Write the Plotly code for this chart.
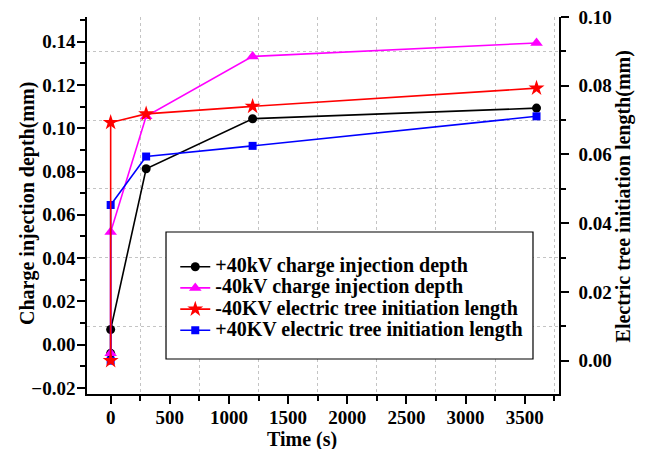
import plotly.graph_objects as go

# Time (s)
time_s = [0, 0, 300, 1200, 3600]

# Charge injection depth (mm) - left axis
pos40_charge = [-0.004, 0.007, 0.0813, 0.1044, 0.1093]
neg40_charge = [-0.004, 0.052, 0.1055, 0.1332, 0.1394]

# Electric tree initiation length (mm) - right axis
neg40_tree = [0.0, 0.0693, 0.0718, 0.0740, 0.0793]
pos40_tree = [0.0, 0.0453, 0.0594, 0.0625, 0.0711]

names = [
    "+40kV charge injection depth",
    "-40kV charge injection depth",
    "-40KV electric tree initiation length",
    "+40KV electric tree initiation length",
]

x_title = "Time (s)"
y_title = "Charge injection depth(mm)"
y2_title = "Electric tree initiation length(mm)"

FONT = "Liberation Serif"


def label(t):
    return f"<span style='font-size:20px'>{t}</span>"


fig = go.Figure()

fig.add_trace(go.Scatter(
    x=time_s, y=pos40_charge, name=label(names[0]), legendrank=1,
    mode="lines+markers", line=dict(color="black", width=1.6),
    marker=dict(symbol="circle", size=9, color="black"),
    yaxis="y", xaxis="x",
))
fig.add_trace(go.Scatter(
    x=time_s, y=neg40_charge, name=label(names[1]), legendrank=2,
    mode="lines+markers", line=dict(color="#ff00ff", width=1.6),
    marker=dict(symbol="triangle-up", size=11, color="#ff00ff"),
    yaxis="y", xaxis="x",
))
fig.add_trace(go.Scatter(
    x=time_s, y=pos40_tree, name=label(names[3]), legendrank=4,
    mode="lines+markers", line=dict(color="#0000ff", width=1.6),
    marker=dict(symbol="square", size=8, color="#0000ff"),
    yaxis="y2", xaxis="x",
))
fig.add_trace(go.Scatter(
    x=time_s, y=neg40_tree, name=label(names[2]), legendrank=3,
    mode="lines+markers", line=dict(color="#ff0000", width=1.6),
    marker=dict(symbol="star", size=12, color="#ff0000"),
    yaxis="y2", xaxis="x",
))

tick_font = dict(family=FONT, size=19, color="black", weight=900)
title_font = dict(family=FONT, size=20, color="black")
grid = dict(showgrid=True, gridcolor="#c4c4c4", griddash="dot", gridwidth=1)

fig.update_layout(
    width=649, height=449,
    margin=dict(l=87, r=90, t=17, b=55),
    paper_bgcolor="white", plot_bgcolor="white",
    font=dict(family=FONT, color="black"),
    xaxis=dict(
        range=[-200, 3790], tick0=0, dtick=500,
        ticks="outside", ticklen=8, tickwidth=1.5, tickcolor="black",
        showline=True, linewidth=1.5, linecolor="black",
        showgrid=False, zeroline=False, automargin=False,
        tickfont=tick_font, ticklabelstandoff=-3,
        minor=dict(dtick=250, ticks="outside", ticklen=5, tickwidth=1.5,
                   tickcolor="black", **grid),
    ),
    xaxis2=dict(
        overlaying="x", side="top", anchor="y", range=[-200, 3790],
        tick0=0, dtick=500, ticks="inside", ticklen=7, tickwidth=1.5,
        tickcolor="black", showline=True, linewidth=1.5, linecolor="black",
        showticklabels=False, showgrid=False, zeroline=False, automargin=False,
        minor=dict(dtick=250, ticks="inside", ticklen=7, tickwidth=1.5,
                   tickcolor="black"),
    ),
    yaxis=dict(
        range=[-0.0228, 0.1514], tick0=0, dtick=0.02, tickformat=".2f",
        ticks="outside", ticklen=8, tickwidth=1.5, tickcolor="black",
        showline=True, linewidth=1.5, linecolor="black",
        showgrid=False, zeroline=False, automargin=False,
        tickfont=tick_font, ticklabelstandoff=-2,
        minor=dict(dtick=0.01, ticks="outside", ticklen=5, tickwidth=1.5,
                   tickcolor="black"),
    ),
    yaxis2=dict(
        overlaying="y", side="right", anchor="x",
        range=[-0.0097, 0.1], tick0=0, dtick=0.02, tickformat=".2f",
        ticks="outside", ticklen=8, tickwidth=1.5, tickcolor="black",
        showline=True, linewidth=1.5, linecolor="black",
        showgrid=False, zeroline=False, automargin=False,
        tickfont=tick_font, ticklabelstandoff=6,
        minor=dict(dtick=0.01, ticks="outside", ticklen=5, tickwidth=1.5,
                   tickcolor="black", **grid),
    ),
    legend=dict(
        x=0.187, y=0.379, xanchor="left", yanchor="top",
        bgcolor="rgba(0,0,0,0)", borderwidth=0,
        font=dict(family=FONT, size=14, color="black", weight="bold"),
        tracegroupgap=0,
    ),
    shapes=[dict(
        type="rect", xref="paper", yref="paper",
        x0=0.1674, x1=0.9449, y0=0.0928, y1=0.4297,
        line=dict(color="black", width=1.2), fillcolor="white", layer="above",
    )],
    annotations=[
        dict(text=f"<b>{x_title}</b>", xref="paper", yref="paper",
             x=0.4555, y=-0.122, xanchor="center", yanchor="middle",
             showarrow=False, font=title_font),
        dict(text=f"<b>{y_title}</b>", xref="paper", yref="paper",
             x=-0.125, y=0.504, xanchor="center", yanchor="middle",
             textangle=-90, showarrow=False, font=title_font),
        dict(text=f"<b>{y2_title}</b>", xref="paper", yref="paper",
             x=1.1356, y=0.524, xanchor="center", yanchor="middle",
             textangle=-90, showarrow=False, font=title_font),
    ],
)

fig.write_html("out.html")
